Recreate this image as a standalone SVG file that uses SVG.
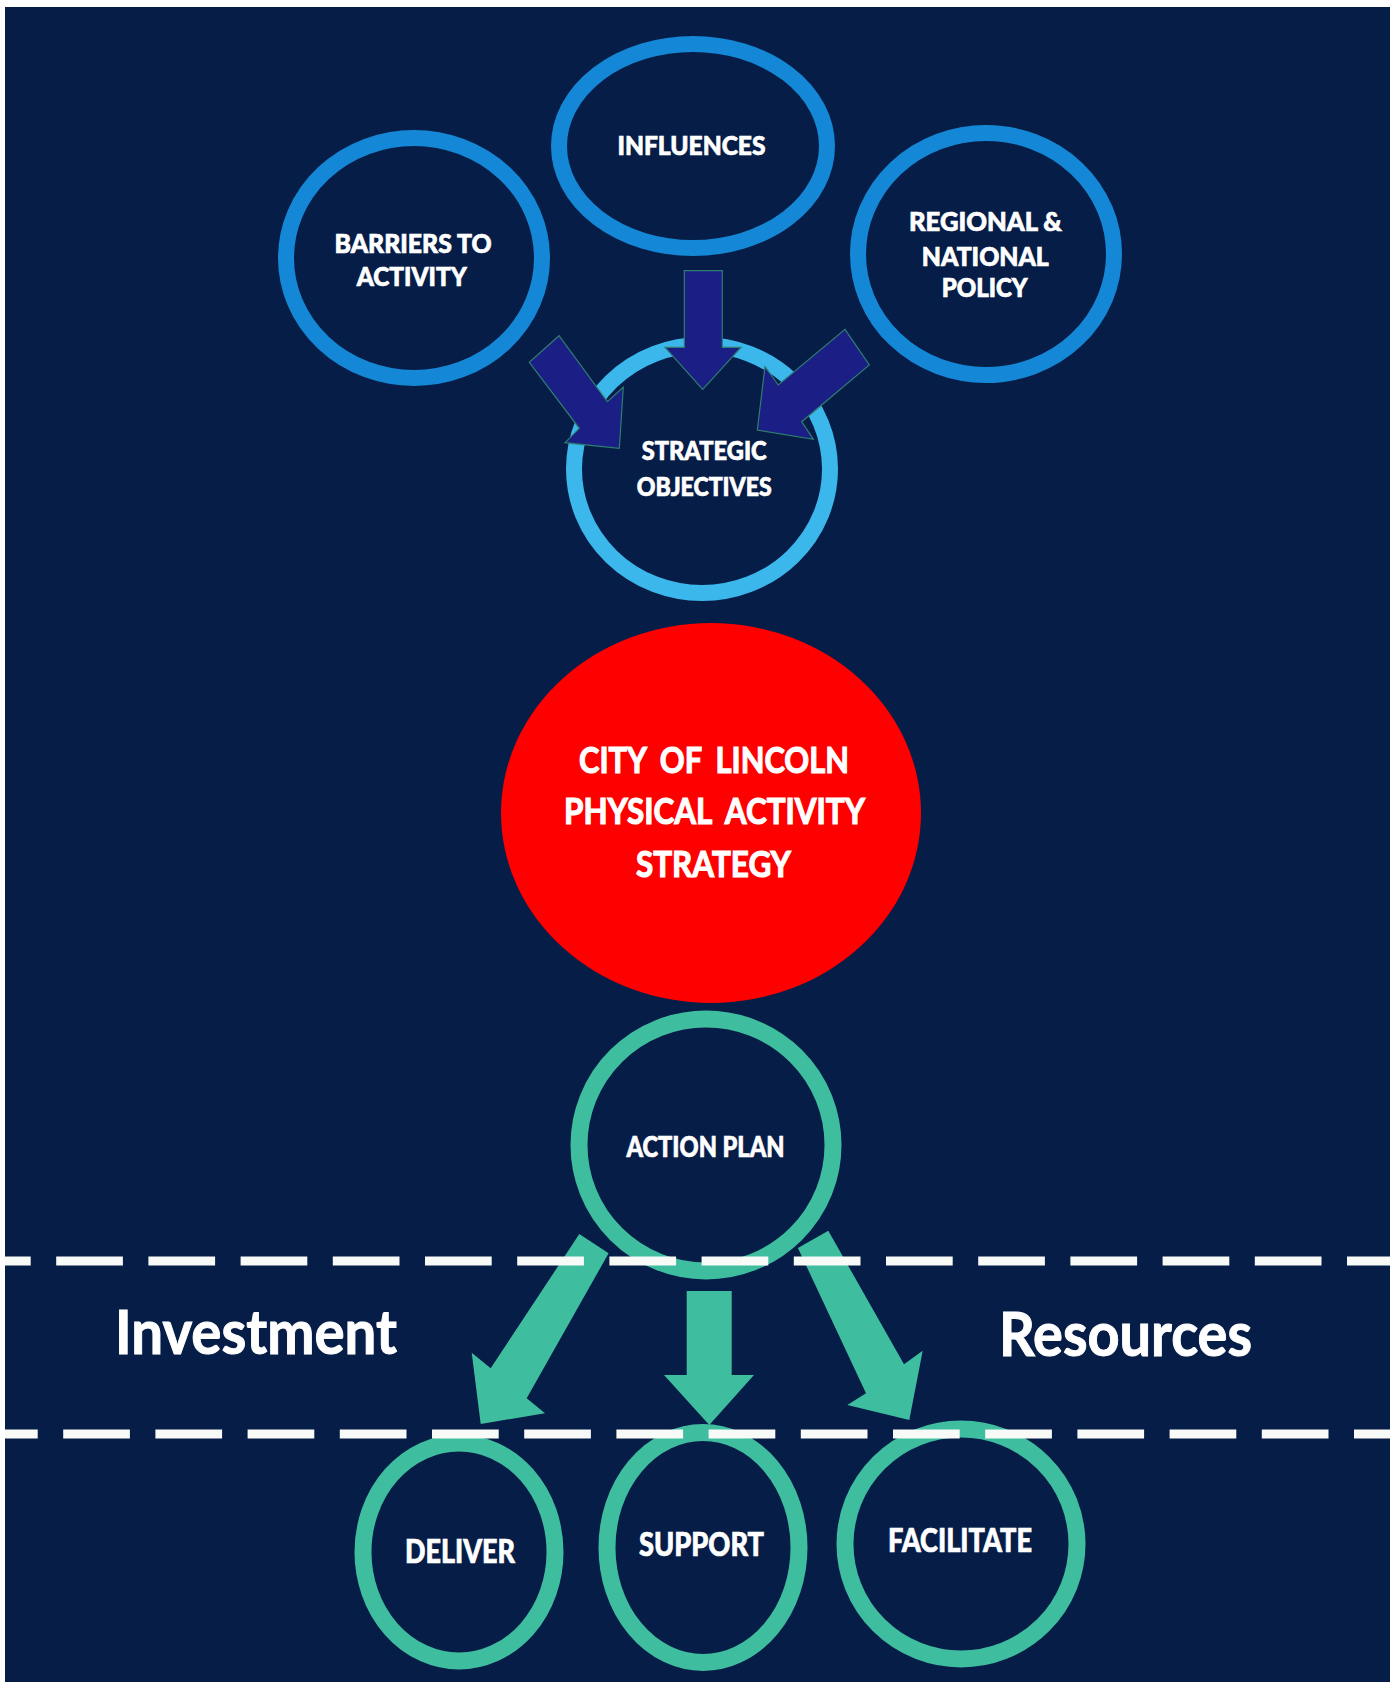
<svg xmlns="http://www.w3.org/2000/svg" width="1397" height="1682" viewBox="0 0 1397 1682">
<defs>
<style>
.ring-blue{fill:none;stroke:#1488D6;stroke-width:16}
.ring-light{fill:none;stroke:#3BB7EB;stroke-width:16}
.ring-green{fill:none;stroke:#3EBD9F;stroke-width:17}
.lbl{font-family:Lato,"Open Sans","Liberation Sans",sans-serif;font-weight:900;fill:#FFFFFF;stroke:#FFFFFF;stroke-width:0.7;text-anchor:middle}
.sm{font-size:26px}
.big{font-size:37px;font-weight:700;stroke-width:1.2;word-spacing:8px}
.side{font-family:Lato,"Open Sans","Liberation Sans",sans-serif;font-weight:700;fill:#FFFFFF;stroke:#FFFFFF;stroke-width:1;font-size:62px}
.arr-blue{fill:#1B1F85;stroke:#2E7E6E;stroke-width:1.2;stroke-linejoin:miter}
.arr-green{fill:#3EBD9F}
.dash{stroke:#F7FAF7;stroke-width:9;stroke-dasharray:66.7 25.5;fill:none}
</style>
</defs>
<rect x="0" y="0" width="1397" height="1682" fill="#FFFFFF"/>
<rect x="5" y="7" width="1385" height="1675" fill="#061D47"/>

<g id="node-influences">
<ellipse class="ring-blue" cx="693" cy="146" rx="134" ry="102"/>
<text class="lbl sm" x="691.5" y="155" textLength="148" lengthAdjust="spacingAndGlyphs">INFLUENCES</text>
</g>
<g id="node-barriers">
<ellipse class="ring-blue" cx="414" cy="258" rx="128" ry="120"/>
<text class="lbl sm" x="413" y="253" textLength="157" lengthAdjust="spacingAndGlyphs">BARRIERS TO</text>
<text class="lbl sm" x="411.7" y="286" textLength="110" lengthAdjust="spacingAndGlyphs">ACTIVITY</text>
</g>
<g id="node-regional">
<ellipse class="ring-blue" cx="986" cy="254" rx="128" ry="121"/>
<text class="lbl sm" x="985.5" y="231" textLength="153" lengthAdjust="spacingAndGlyphs">REGIONAL &amp;</text>
<text class="lbl sm" x="985.3" y="266" textLength="127" lengthAdjust="spacingAndGlyphs">NATIONAL</text>
<text class="lbl sm" x="984.7" y="297" textLength="86" lengthAdjust="spacingAndGlyphs">POLICY</text>
</g>
<g id="node-strategic">
<ellipse class="ring-light" cx="702" cy="469" rx="128" ry="124"/>
<text class="lbl sm" x="704.2" y="460" textLength="125" lengthAdjust="spacingAndGlyphs">STRATEGIC</text>
<text class="lbl sm" x="704.2" y="496" textLength="135" lengthAdjust="spacingAndGlyphs">OBJECTIVES</text>
</g>
<g id="node-strategy">
<ellipse cx="711" cy="813" rx="210" ry="190" fill="#FF0000"/>
<text class="lbl big" x="714" y="773" textLength="270" lengthAdjust="spacingAndGlyphs">CITY OF LINCOLN</text>
<text class="lbl big" x="714.5" y="824" textLength="301" lengthAdjust="spacingAndGlyphs">PHYSICAL ACTIVITY</text>
<text class="lbl big" x="713.5" y="877" textLength="155" lengthAdjust="spacingAndGlyphs">STRATEGY</text>
</g>
<g id="node-action-plan">
<ellipse class="ring-green" cx="706" cy="1145" rx="127" ry="126"/>
<text class="lbl" style="font-size:28px" x="705.5" y="1157" textLength="158" lengthAdjust="spacingAndGlyphs">ACTION PLAN</text>
</g>
<g id="node-deliver">
<ellipse class="ring-green" cx="459" cy="1552" rx="96" ry="109"/>
<text class="lbl" style="font-size:32px" x="460" y="1563" textLength="110" lengthAdjust="spacingAndGlyphs">DELIVER</text>
</g>
<g id="node-support">
<ellipse class="ring-green" cx="703" cy="1547.5" rx="96" ry="115"/>
<text class="lbl" style="font-size:32px" x="701.5" y="1555.5" textLength="125" lengthAdjust="spacingAndGlyphs">SUPPORT</text>
</g>
<g id="node-facilitate">
<ellipse class="ring-green" cx="961" cy="1544" rx="116" ry="115"/>
<text class="lbl" style="font-size:32px" x="960" y="1552" textLength="144" lengthAdjust="spacingAndGlyphs">FACILITATE</text>
</g>

<g id="connectors">
<polygon class="arr-blue" points="684.3,270.7 722.3,270.7 722.3,347.3 741,347.3 702.7,389.3 665,347.3 684.3,347.3"/>
<polygon class="arr-blue" points="559,335.7 607.3,401.7 623.3,387.3 619.3,448.3 565,442.7 579.3,428.3 529.3,362.3"/>
<polygon class="arr-blue" points="845,329.3 869.3,365 801.7,421.7 813.3,439.3 757.3,430 765,366.7 778.3,385"/>
<polygon class="arr-green" points="579.3,1234 608.6,1253.3 526.7,1398.3 545,1413.3 480.7,1424 471.7,1352.7 490.7,1368.3"/>
<polygon class="arr-green" points="686.7,1291 731.7,1291 731.7,1375 754,1375 709.3,1425 664,1375 686.7,1375"/>
<polygon class="arr-green" points="828.3,1230.7 904,1364.3 922.7,1350.7 909.3,1420 847.3,1405 866,1393.3 797.9,1247.9"/>
</g>

<g id="bands">
<line class="dash" x1="5" y1="1261" x2="1390" y2="1261" stroke-dashoffset="41"/>
<line class="dash" x1="5" y1="1434" x2="1390" y2="1434" stroke-dashoffset="34"/>
</g>

<g id="labels">
<text class="side" x="115" y="1354" textLength="282" lengthAdjust="spacingAndGlyphs">Investment</text>
<text class="side" x="999" y="1356" textLength="253" lengthAdjust="spacingAndGlyphs">Resources</text>
</g>
</svg>
